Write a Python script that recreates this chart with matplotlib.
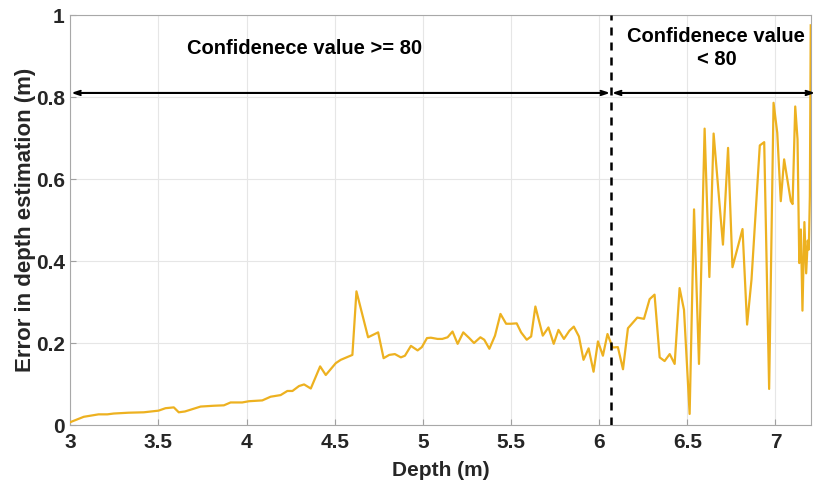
import numpy as np
import matplotlib
matplotlib.use('Agg')
import matplotlib.pyplot as plt

# depth (m) vs error in depth estimation (m)
depth = [3.0, 3.076, 3.16, 3.21, 3.246, 3.33, 3.417, 3.50, 3.54, 3.587,
         3.615, 3.65, 3.739, 3.814, 3.871, 3.909, 3.975, 4.013, 4.089, 4.136,
         4.193, 4.231, 4.26, 4.297, 4.326, 4.364, 4.417, 4.449, 4.506, 4.534,
         4.60, 4.623, 4.689, 4.746, 4.777, 4.809, 4.841, 4.875, 4.898, 4.932,
         4.97, 4.994, 5.023, 5.045, 5.083, 5.11, 5.14, 5.168, 5.197, 5.229,
         5.263, 5.29, 5.326, 5.348, 5.377, 5.409, 5.44, 5.472, 5.5, 5.532,
         5.557, 5.589, 5.614, 5.638, 5.68, 5.712, 5.742, 5.769, 5.80, 5.831,
         5.856, 5.885, 5.911, 5.94, 5.968, 5.993, 6.021, 6.047, 6.076, 6.106,
         6.135, 6.163, 6.216, 6.254, 6.286, 6.314, 6.343, 6.371, 6.40, 6.428,
         6.456, 6.481, 6.513, 6.538, 6.566, 6.598, 6.625, 6.649, 6.702, 6.731,
         6.756, 6.813, 6.839, 6.864, 6.911, 6.936, 6.964, 6.989, 7.01, 7.03,
         7.049, 7.087, 7.097, 7.112, 7.125, 7.135, 7.144, 7.153, 7.164, 7.174,
         7.183, 7.189, 7.195, 7.2]
error = [0.007, 0.020, 0.026, 0.026, 0.028, 0.030, 0.031, 0.035, 0.041, 0.043,
         0.031, 0.033, 0.045, 0.047, 0.048, 0.055, 0.055, 0.058, 0.060, 0.069,
         0.073, 0.083, 0.083, 0.095, 0.099, 0.089, 0.143, 0.122, 0.151, 0.159,
         0.171, 0.326, 0.214, 0.226, 0.163, 0.171, 0.173, 0.165, 0.169, 0.193,
         0.182, 0.19, 0.212, 0.213, 0.21, 0.21, 0.214, 0.228, 0.198, 0.226,
         0.212, 0.2, 0.214, 0.208, 0.186, 0.218, 0.271, 0.247, 0.247, 0.248,
         0.226, 0.208, 0.216, 0.289, 0.218, 0.238, 0.198, 0.232, 0.21, 0.23,
         0.24, 0.216, 0.159, 0.187, 0.13, 0.204, 0.169, 0.222, 0.189, 0.19,
         0.136, 0.236, 0.262, 0.259, 0.307, 0.318, 0.165, 0.156, 0.173, 0.149,
         0.334, 0.281, 0.027, 0.526, 0.149, 0.723, 0.361, 0.711, 0.44, 0.676,
         0.385, 0.478, 0.245, 0.355, 0.682, 0.69, 0.088, 0.786, 0.713, 0.546,
         0.648, 0.546, 0.539, 0.777, 0.697, 0.395, 0.477, 0.279, 0.495, 0.37,
         0.45, 0.428, 0.558, 0.975]

threshold_depth = 6.067
arrow_y = 0.81
xticks = [3, 3.5, 4, 4.5, 5, 5.5, 6, 6.5, 7]
xticklabels = ['3', '3.5', '4', '4.5', '5', '5.5', '6', '6.5', '7']
yticks = [0, 0.2, 0.4, 0.6, 0.8, 1]
yticklabels = ['0', '0.2', '0.4', '0.6', '0.8', '1']

plt.rcParams['font.family'] = ['Liberation Sans', 'DejaVu Sans']
plt.rcParams['font.weight'] = 'bold'

fig = plt.figure(figsize=(8.14, 4.86), dpi=100)
ax = fig.add_axes([0.0864, 0.1255, 0.9096, 0.8435])

ax.plot(depth, error, color='#EDB120', lw=1.6, zorder=3)
ax.axvline(threshold_depth, color='k', lw=1.8, ls=(0, (3.2, 2.8)), zorder=4)

ax.annotate('', xy=(3.005, arrow_y), xytext=(threshold_depth - 0.005, arrow_y),
            arrowprops=dict(arrowstyle='<->,head_length=0.45,head_width=0.15',
                            lw=1.5, color='k', shrinkA=0, shrinkB=0))
ax.annotate('', xy=(threshold_depth + 0.005, arrow_y), xytext=(7.225, arrow_y),
            arrowprops=dict(arrowstyle='<->,head_length=0.45,head_width=0.15',
                            lw=1.5, color='k', shrinkA=0, shrinkB=0),
            annotation_clip=False)

ax.text(4.33, 0.918, 'Confidenece value >= 80', ha='center', va='center',
        fontsize=14.5, fontweight='bold', color='k')
ax.text(6.665, 0.92, 'Confidenece value\n< 80', ha='center', va='center',
        fontsize=14.5, fontweight='bold', color='k', linespacing=1.3)

ax.set_xlim(3, 7.2)
ax.set_ylim(0, 1)
ax.set_xticks(xticks)
ax.set_xticklabels(xticklabels)
ax.set_yticks(yticks)
ax.set_yticklabels(yticklabels)
ax.tick_params(direction='in', length=4, width=0.8, color='#a0a0a0',
               labelsize=15, labelcolor='#262626')
ax.tick_params(axis='x', pad=6)
ax.tick_params(axis='y', pad=4)
ax.grid(True, color='#e6e6e6', lw=0.8)
ax.set_axisbelow(True)
for s in ax.spines.values():
    s.set_color('#a8a8a8')
    s.set_linewidth(0.8)

ax.set_xlabel('Depth (m)', fontsize=15, fontweight='bold', color='#262626', labelpad=6)
ax.set_ylabel('Error in depth estimation (m)', fontsize=16, fontweight='bold',
              color='#262626', labelpad=0)

fig.savefig('out.png', dpi=100)
